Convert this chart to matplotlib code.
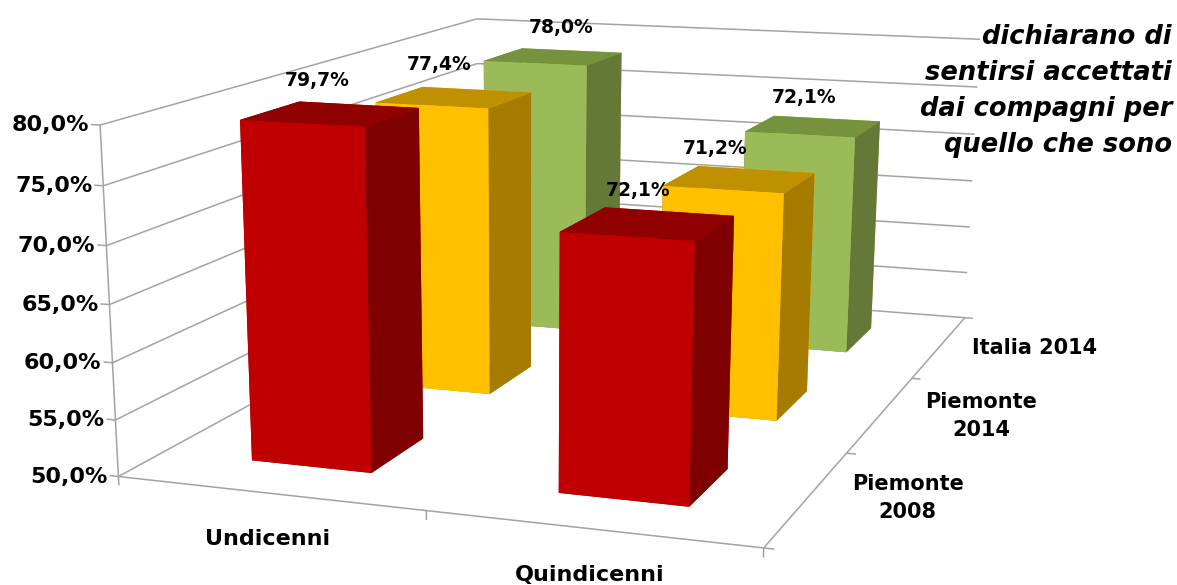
import numpy as np
import matplotlib
matplotlib.use("Agg")
import matplotlib.pyplot as plt
from mpl_toolkits.mplot3d.art3d import Line3DCollection

# --- data ---
categories = ["Undicenni", "Quindicenni"]
series_names = ["Piemonte\n2008", "Piemonte\n2014", "Italia 2014"]
piemonte_2008 = [79.7, 72.1]
piemonte_2014 = [77.4, 71.2]
italia_2014 = [78.0, 72.1]
value_ticks = [50, 55, 60, 65, 70, 75, 80]
title_lines = ["dichiarano di", "sentirsi accettati", "dai compagni per", "quello che sono"]

W, H = 1177, 585
BASE = 50.0
BAR_W, BAR_D = 0.40, 0.41
GRID = "#a3a3a3"

front = ["#C00000", "#FFC000", "#9BBB59"]
top = ["#900000", "#BF9000", "#76923C"]
side = ["#7F0000", "#A67C00", "#647837"]

# label nudges in pixels (series by category), as placed in the picture
label_dx = [[-14, -10], [-15, -25], [8, -9]]
label_dy = [[33, 33], [33, 31], [29, 29]]
series_label_dx = [100, 100, 95]
series_label_dy = [0, 2, 2]

# --- camera: solved from where the axes' frame sits in the picture ---
frame_world = np.array([
    (0, 0, 50), (0, 0, 55), (0, 0, 60), (0, 0, 65), (0, 0, 70), (0, 0, 75), (0, 0, 80),
    (1, 0, 50), (2, 0, 50), (2, 1, 50), (2, 2, 50),
    (2, 3, 50), (2, 3, 55), (2, 3, 60), (2, 3, 65), (2, 3, 70), (2, 3, 75), (2, 3, 80),
    (0, 3, 80)], float)
frame_pixel = np.array([
    (119, 476), (115, 419), (112, 363), (110, 305), (106, 247), (104, 186), (100, 125),
    (425, 512), (762, 547), (848, 452), (915, 378),
    (963, 318), (967, 273), (969, 228), (973, 181), (975, 134), (978, 87), (979, 39),
    (477, 18)], float)


def solve_camera(world, pixel):
    S = np.array([[1, 0, 0, 0], [0, 1, 0, 0], [0, 0, .1, -5], [0, 0, 0, 1.]])
    rows = []
    for (x, y, z), (u, v) in zip(world, pixel):
        q = S @ np.array([x, y, z, 1.0])
        u, v = u / 1000, v / 1000
        rows.append(np.r_[q, 0, 0, 0, 0, -u * q])
        rows.append(np.r_[0, 0, 0, 0, q, -v * q])
    p = np.linalg.svd(np.array(rows))[2][-1].reshape(3, 4)
    p = np.diag([1000, 1000, 1.0]) @ p @ S
    if (p[2] @ np.array([1, 1, 60, 1.0])) < 0:
        p = -p
    return p


P = solve_camera(frame_world, frame_pixel)
M = np.vstack([P[0], P[1], [0, 0, 0, -1.0], P[2]])


def project(x, y, z):
    u, v, w = P @ np.array([x, y, z, 1.0])
    return u / w, v / w


fig = plt.figure(figsize=(W / 100, H / 100), dpi=100, facecolor="white")
ax = fig.add_subplot(projection="3d", computed_zorder=False)
ax.set_position([0, 0, 1, 1])
ax.apply_aspect = lambda position=None: None
ax.get_proj = lambda: M
ax.viewLim.intervalx = (0, W)
ax.viewLim.intervaly = (H, 0)
ax.set_axis_off()

n_cat, n_ser = len(categories), len(series_names)
zmin, zmax = value_ticks[0], value_ticks[-1]

# walls' gridlines, axes and tick marks
segments = []
for v in value_ticks:
    segments.append([(0, 0, v), (0, n_ser, v)])
    segments.append([(0, n_ser, v), (n_cat, n_ser, v)])
    segments.append([(-0.03, 0, v), (0, 0, v)])
segments.append([(0, 0, zmin), (0, 0, zmax)])
segments.append([(0, 0, zmin), (n_cat, 0, zmin)])
segments.append([(n_cat, 0, zmin), (n_cat, n_ser, zmin)])
for c in range(n_cat + 1):
    segments.append([(c, 0, zmin), (c, 0, zmin - 0.8)])
for s in range(n_ser + 1):
    segments.append([(n_cat, s, zmin), (n_cat + 0.03, s, zmin)])
frame = Line3DCollection(segments, colors=GRID, linewidths=1.1, zorder=1)
ax.add_collection3d(frame)

# bars, farthest first
all_series = [piemonte_2008, piemonte_2014, italia_2014]
order = 10
for s in range(n_ser - 1, -1, -1):
    for c in range(n_cat):
        val = all_series[s][c]
        faces = [top[s], top[s], front[s], front[s], side[s], side[s]]
        bar = ax.bar3d(c + 0.5 - BAR_W / 2, s + 0.5 - BAR_D / 2, BASE, BAR_W, BAR_D, val - BASE,
                       color=faces, shade=False)
        bar.set_zorder(order)
        order += 1
        u, v = project(c + 0.5, s + 0.5, val)
        fig.text((u + label_dx[s][c]) / W, 1 - (v - label_dy[s][c]) / H,
                 f"{val:.1f}%".replace(".", ","), ha="center", va="center",
                 fontsize=13.5, fontweight="bold", color="black", zorder=20)

# tick labels
for v in value_ticks:
    u, y = project(0, 0, v)
    fig.text((u - 11) / W, 1 - y / H, f"{v:.1f}%".replace(".", ","), ha="right", va="center",
             fontsize=16, fontweight="bold", color="black")
for c, name in enumerate(categories):
    u, v = project(c + 0.5, 0, zmin)
    fig.text((u - 1) / W, 1 - (v + 46) / H, name, ha="center", va="center",
             fontsize=16, fontweight="bold", color="black")
for s, name in enumerate(series_names):
    u, v = project(n_cat, s + 0.5, zmin)
    fig.text((u + series_label_dx[s]) / W, 1 - (v + series_label_dy[s]) / H, name, ha="center",
             va="center", fontsize=15, fontweight="bold", color="black", linespacing=1.5)

# title
for i, t in enumerate(title_lines):
    fig.text(1172 / W, 1 - (37 + 36 * i) / H, t, ha="right", va="center",
             fontsize=18.5, style="italic", fontweight="bold", color="black")

fig.savefig("out.png", dpi=100, facecolor="white")
